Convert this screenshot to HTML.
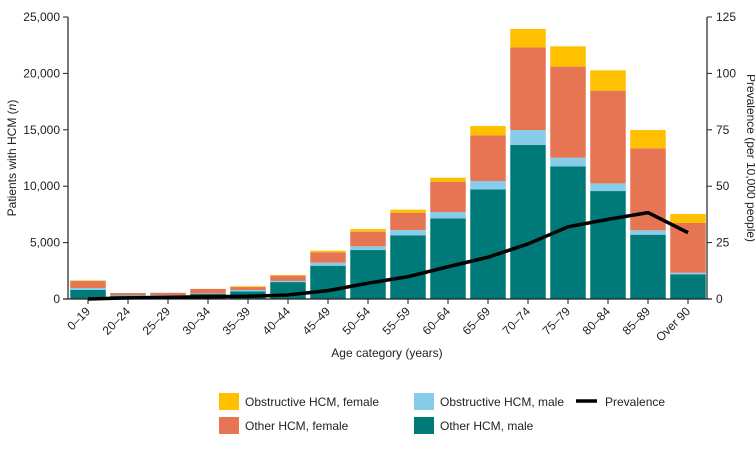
<!DOCTYPE html>
<html><head><meta charset="utf-8"><style>
body{margin:0;background:#fff;font-family:"Liberation Sans",Arial,sans-serif}
svg text{font-family:"Liberation Sans",Arial,sans-serif;fill:#222}
</style></head><body>
<svg id="c" width="755" height="445"></svg>
<script>
const categories=["0–19","20–24","25–29","30–34","35–39","40–44","45–49","50–54","55–59","60–64","65–69","70–74","75–79","80–84","85–89","Over 90"];
const otherMale=[800,300,300,470,680,1500,2950,4340,5650,7150,9720,13650,11760,9570,5700,2190];
const obstrMale=[175,50,50,30,120,100,270,330,470,560,740,1330,770,680,390,140];
const otherFemale=[625,180,200,390,260,470,920,1300,1530,2690,4050,7330,8070,8220,7270,4410];
const obstrFemale=[50,0,0,10,70,60,140,230,270,350,830,1630,1800,1800,1620,800];
const prevalence=[0,0.5,0.8,1,1.2,1.8,3.7,7,9.9,14.3,18.5,24.4,32,35.3,38.3,29.4];
const leftTicks=[0,5000,10000,15000,20000,25000];
const rightTicks=[0,25,50,75,100,125];
const NS="http://www.w3.org/2000/svg",svg=document.getElementById('c');
const X0=68,X1=707,Y0=299,Y1=17,step=40,bw=35.5;
const yL=v=>Y0-(v/25000)*(Y0-Y1), yR=v=>Y0-(v/125)*(Y0-Y1), xC=i=>88+i*step;
function mk(t,a,p){const e=document.createElementNS(NS,t);for(const k in a)e.setAttribute(k,a[k]);(p||svg).appendChild(e);return e;}
const colors=["#007a78","#87cce8","#e67553","#ffc000"];
const series=[otherMale,obstrMale,otherFemale,obstrFemale];
const sNames=["other-hcm-male","obstructive-hcm-male","other-hcm-female","obstructive-hcm-female"];
categories.forEach((c,i)=>{let base=0;series.forEach((s,j)=>{const v=s[i];if(v<=0)return;
const r=mk('rect',{x:xC(i)-bw/2,y:yL(base+v),width:bw,height:yL(base)-yL(base+v),fill:colors[j]});


base+=v;});});
// axes
const ax=mk('line',{x1:X0,y1:Y1,x2:X0,y2:Y0,stroke:'#222','stroke-width':1.2});

const ax2=mk('line',{x1:X1,y1:Y1,x2:X1,y2:Y0,stroke:'#222','stroke-width':1.2});

const ax3=mk('line',{x1:X0-5,y1:Y0,x2:X1+5,y2:Y0,stroke:'#222','stroke-width':1.2});

leftTicks.forEach(v=>{mk('line',{x1:X0-5,y1:yL(v),x2:X0,y2:yL(v),stroke:'#222'});
const t=mk('text',{x:X0-8,y:yL(v)+4,'text-anchor':'end','font-size':12});t.textContent=v.toLocaleString('en-US');
});
rightTicks.forEach(v=>{mk('line',{x1:X1,y1:yR(v),x2:X1+5,y2:yR(v),stroke:'#222'});
const t=mk('text',{x:X1+9,y:yR(v)+4,'font-size':12});t.textContent=v;
});
categories.forEach((c,i)=>{mk('line',{x1:xC(i),y1:Y0,x2:xC(i),y2:Y0+5,stroke:'#222'});
const t=mk('text',{x:xC(i)+3,y:Y0+13,'text-anchor':'end','font-size':12,transform:`rotate(-45 ${xC(i)+3} ${Y0+13})`});t.textContent=c;
});
// line
const pl=mk('polyline',{points:prevalence.map((v,i)=>xC(i)+','+yR(v)).join(' '),fill:'none',stroke:'#000','stroke-width':3.5,'stroke-linejoin':'round'});

// titles
let t=mk('text',{x:387,y:357,'text-anchor':'middle','font-size':12});t.textContent='Age category (years)';

t=mk('text',{x:0,y:0,'text-anchor':'middle','font-size':12,transform:'translate(16 158) rotate(-90)'});t.innerHTML='Patients with HCM (<tspan font-style="italic">n</tspan>)';

t=mk('text',{x:0,y:0,'text-anchor':'middle','font-size':12,transform:'translate(747 158) rotate(90)'});t.textContent='Prevalence (per 10,000 people)';

// legend
const leg=[["#ffc000","Obstructive HCM, female",219,393],["#87cce8","Obstructive HCM, male",414,393],["#e67553","Other HCM, female",219,417],["#007a78","Other HCM, male",414,417]];
leg.forEach(l=>{const r=mk('rect',{x:l[2],y:l[3],width:20,height:17,fill:l[0]});

const tx=mk('text',{x:l[2]+26,y:l[3]+13,'font-size':12});tx.textContent=l[1];
});
const ll=mk('line',{x1:576,y1:401,x2:597,y2:401,stroke:'#000','stroke-width':3.5});

t=mk('text',{x:605,y:406,'font-size':12});t.textContent='Prevalence';

</script>
</body></html>
